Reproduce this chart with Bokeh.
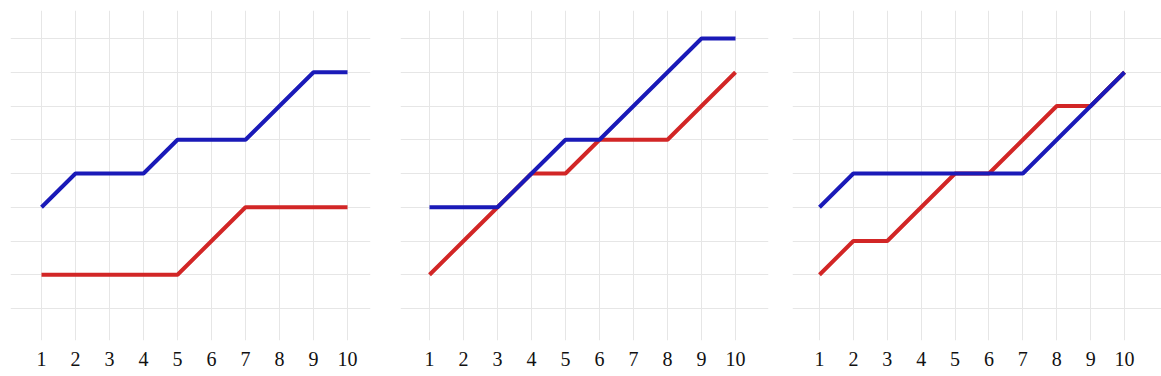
from bokeh.plotting import figure
from bokeh.layouts import row
from bokeh.models import Range1d, FixedTicker
from bokeh.embed import file_html
from bokeh.resources import INLINE

x_vals = [1, 2, 3, 4, 5, 6, 7, 8, 9, 10]
tick_labels = [str(v) for v in x_vals]

blue_1 = [3, 4, 4, 4, 5, 5, 5, 6, 7, 7]
red_1 = [1, 1, 1, 1, 1, 2, 3, 3, 3, 3]

blue_2 = [3, 3, 3, 4, 5, 5, 6, 7, 8, 8]
red_2 = [1, 2, 3, 4, 4, 5, 5, 5, 6, 7]

blue_3 = [3, 4, 4, 4, 4, 4, 4, 5, 6, 7]
red_3 = [1, 2, 2, 3, 4, 4, 5, 6, 6, 7]

y_grid = [0, 1, 2, 3, 4, 5, 6, 7, 8]

BLUE = "#1a1ab8"
RED = "#d22626"

panels = [
    dict(blue=blue_1, red=red_1, xr=(0.088, 10.676), w=387, left=10, right=17),
    dict(blue=blue_2, red=red_2, xr=(0.147, 10.97), w=387, left=13, right=6),
    dict(blue=blue_3, red=red_3, xr=(0.204, 11.09), w=387, left=18, right=0),
]

figs = []
for pn in panels:
    p = figure(width=pn["w"], height=376, output_backend="svg", toolbar_location=None,
               x_range=Range1d(*pn["xr"]), y_range=Range1d(-0.948, 8.83),
               min_border_left=pn["left"], min_border_right=pn["right"],
               min_border_top=10, min_border_bottom=36)
    p.outline_line_color = None
    p.background_fill_color = "white"
    p.border_fill_color = "white"
    p.yaxis.visible = False
    p.xaxis.ticker = FixedTicker(ticks=x_vals)
    p.xaxis.major_label_overrides = {v: l for v, l in zip(x_vals, tick_labels)}
    p.xaxis.axis_line_color = None
    p.xaxis.major_tick_line_color = None
    p.xaxis.minor_tick_line_color = None
    p.xaxis.major_label_text_font = "Liberation Serif"
    p.xaxis.major_label_text_font_size = "20px"
    p.xaxis.major_label_text_color = "#111111"
    p.xaxis.major_label_standoff = 5
    p.xgrid.ticker = FixedTicker(ticks=x_vals)
    p.ygrid.ticker = FixedTicker(ticks=y_grid)
    p.xgrid.grid_line_color = "#e6e6e6"
    p.ygrid.grid_line_color = "#e6e6e6"
    p.line(x_vals, pn["red"], line_color=RED, line_width=4)
    p.line(x_vals, pn["blue"], line_color=BLUE, line_width=4)
    figs.append(p)

layout = row(*figs)
open("out.html", "w").write(file_html(layout, INLINE))
